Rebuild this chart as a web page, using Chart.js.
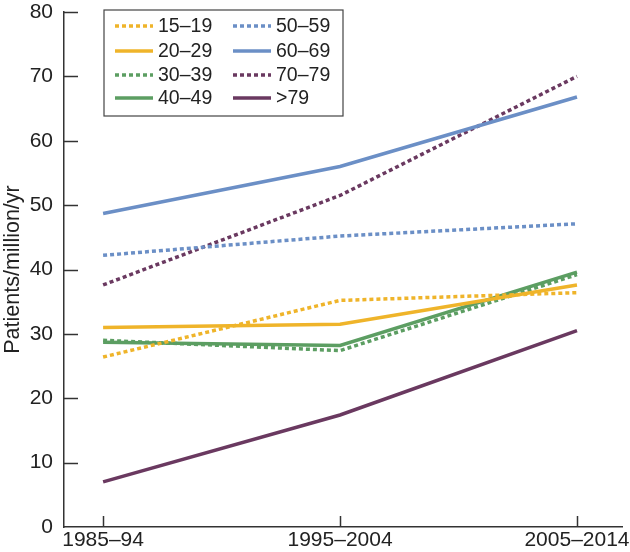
<!DOCTYPE html>
<html>
<head>
<meta charset="utf-8">
<script src="https://cdn.jsdelivr.net/npm/chart.js@4"></script>
<style>
  html, body { margin: 0; padding: 0; background: #fff; }
  #wrap { width: 630px; height: 552px; position: relative; }
</style>
</head>
<body>
<div id="wrap"><canvas id="chart"></canvas></div>
<script>
// periodos
const periodos = ['1985–94', '1995–2004', '2005–2014'];
const yTicks = [0, 10, 20, 30, 40, 50, 60, 70, 80];

// series por grupo de edad
const edad15_19 = [26.4, 35.2, 36.4];
const edad20_29 = [31.0, 31.5, 37.6];
const edad30_39 = [29.0, 27.4, 39.2];
const edad40_49 = [28.7, 28.2, 39.6];
const edad50_59 = [42.2, 45.2, 47.1];
const edad60_69 = [48.7, 56.0, 66.8];
const edad70_79 = [37.6, 51.5, 70.0];
const edad80 = [7.0, 17.4, 30.5];

const amarillo = '#efb42a';
const verde = '#5c9e62';
const azul = '#6b8fc6';
const morado = '#6a3960';
const punteado = [4, 3];
const fuente = '"Liberation Sans", Arial, sans-serif';

function serie(label, valores, color, dash) {
    return {
        label: label,
        data: valores.map((v, i) => ({ x: i, y: v })),
        borderColor: color,
        backgroundColor: color,
        borderWidth: 3.5,
        borderDash: dash || [],
        borderCapStyle: 'butt',
        pointRadius: 0,
        tension: 0,
        fill: false
    };
}

// Leyenda en dos columnas dentro del área
const leyendaPlugin = {
    id: 'leyendaCaja',
    afterDraw(chart) {
        const ctx = chart.ctx;
        const sets = chart.data.datasets;
        ctx.save();
        ctx.fillStyle = '#fff';
        ctx.fillRect(104, 10, 239, 106);
        ctx.strokeStyle = '#444';
        ctx.lineWidth = 1.2;
        ctx.strokeRect(104, 10, 239, 106);
        ctx.font = '19.5px ' + fuente;
        ctx.textBaseline = 'middle';
        ctx.textAlign = 'left';
        const filas = [26, 51, 75, 98];
        sets.forEach((ds, i) => {
            const col = i < 4 ? 0 : 1;
            const fila = i % 4;
            const x0 = col === 0 ? 115 : 233;
            const y = filas[fila];
            ctx.strokeStyle = ds.borderColor;
            ctx.lineWidth = 3.5;
            ctx.lineCap = 'butt';
            ctx.setLineDash(ds.borderDash);
            ctx.beginPath();
            ctx.moveTo(x0, y);
            ctx.lineTo(x0 + 38, y);
            ctx.stroke();
            ctx.setLineDash([]);
            ctx.fillStyle = '#222';
            ctx.fillText(ds.label, x0 + 43, y + 1);
        });
        ctx.restore();
    }
};

// Marcas de ejes hacia adentro
const marcasPlugin = {
    id: 'marcasDentro',
    afterDatasetsDraw(chart) {
        const ctx = chart.ctx;
        const x = chart.scales.x, y = chart.scales.y;
        const area = chart.chartArea;
        ctx.save();
        ctx.strokeStyle = '#333';
        ctx.lineWidth = 1.5;
        yTicks.forEach(t => {
            if (t === 0) return;
            const py = Math.round(y.getPixelForValue(t)) + 0.5;
            ctx.beginPath();
            ctx.moveTo(area.left, py);
            ctx.lineTo(area.left + 14, py);
            ctx.stroke();
        });
        periodos.forEach((p, i) => {
            const px = Math.round(x.getPixelForValue(i)) + 0.5;
            ctx.beginPath();
            ctx.moveTo(px, area.bottom);
            ctx.lineTo(px, area.bottom - 11);
            ctx.stroke();
        });
        ctx.restore();
    }
};

new Chart(document.getElementById('chart').getContext('2d'), {
    type: 'line',
    data: {
        datasets: [
            serie('15–19', edad15_19, amarillo, punteado),
            serie('20–29', edad20_29, amarillo),
            serie('30–39', edad30_39, verde, punteado),
            serie('40–49', edad40_49, verde),
            serie('50–59', edad50_59, azul, punteado),
            serie('60–69', edad60_69, azul),
            serie('70–79', edad70_79, morado, punteado),
            serie('>79', edad80, morado)
        ]
    },
    options: {
        responsive: true,
        maintainAspectRatio: false,
        animation: false,
        layout: { padding: { top: 0, right: 8, left: 0, bottom: 0 } },
        plugins: {
            legend: { display: false },
            tooltip: { enabled: false }
        },
        scales: {
            x: {
                type: 'linear',
                min: -0.165,
                max: 2.19,
                afterBuildTicks: s => { s.ticks = periodos.map((p, i) => ({ value: i })); },
                afterFit: s => { s.height = 25; s.paddingLeft = 0; s.paddingRight = 0; },
                grid: { display: false, drawTicks: false },
                border: { display: true, color: '#333', width: 1.5 },
                ticks: {
                    callback: v => periodos[v],
                    color: '#222',
                    padding: 1,
                    maxRotation: 0,
                    autoSkip: false,
                    font: { family: fuente, size: 21 }
                }
            },
            y: {
                min: 0,
                max: 80,
                afterBuildTicks: s => { s.ticks = yTicks.map(v => ({ value: v })); },
                afterFit: s => { s.width = 64; s.paddingTop = 12; s.paddingBottom = 0; },
                grid: { display: false, drawTicks: false },
                border: { display: true, color: '#333', width: 1.5 },
                ticks: {
                    color: '#222',
                    padding: 11,
                    font: { family: fuente, size: 21 }
                },
                title: {
                    display: true,
                    text: 'Patients/million/yr',
                    color: '#222',
                    padding: { top: 0, bottom: 0 },
                    font: { family: fuente, size: 21.5 }
                }
            }
        }
    },
    plugins: [marcasPlugin, leyendaPlugin]
});
</script>
</body>
</html>
